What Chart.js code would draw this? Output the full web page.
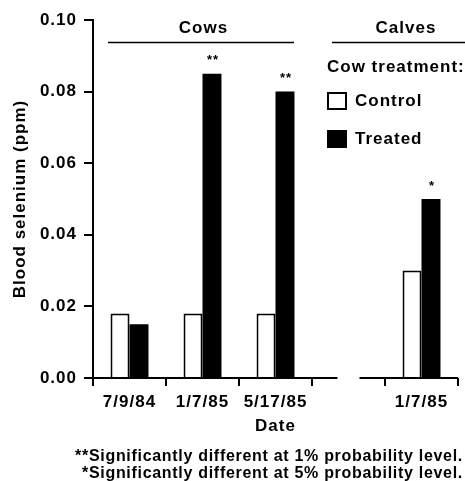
<!DOCTYPE html>
<html>
<head>
<meta charset="utf-8">
<script src="https://cdn.jsdelivr.net/npm/chart.js@4"></script>
<style>
  html, body { margin: 0; padding: 0; background: #fff; }
  canvas { display: block; }
</style>
</head>
<body>
<canvas id="seleniumChart" width="465" height="481"></canvas>
<script>
// categories: three cow sampling dates, an empty spacer, then calves
const dates = ['7/9/84', '1/7/85', '5/17/85', '', '1/7/85'];
const controlValues = [0.018, 0.018, 0.018, null, 0.030];
const treatedValues = [0.015, 0.085, 0.080, null, 0.050];
const treatedSignificance = ['', '**', '**', '', '*'];
const yTicks = [0, 0.02, 0.04, 0.06, 0.08, 0.10];
const footnotes = [
    '**Significantly different at 1% probability level.',
    '*Significantly different at 5% probability level.'
];

const FONT = '"Liberation Sans", Arial, Helvetica, sans-serif';
const bold = size => ({ family: FONT, size: size, weight: 'bold' });

// the scanned lettering is loosely spaced
const spacing = {
    id: 'spacing',
    beforeLayout(chart) { chart.ctx.letterSpacing = '1px'; },
    beforeDraw(chart) { chart.ctx.letterSpacing = '1px'; }
};

const annotations = {
    id: 'annotations',
    afterDraw(chart) {
        const ctx = chart.ctx;
        const x = chart.scales.x;
        const area = chart.chartArea;
        ctx.save();
        ctx.strokeStyle = '#000';
        ctx.fillStyle = '#000';

        // broken baseline between the cow and calf groups
        const gapCenter = x.getPixelForValue(3);
        ctx.lineWidth = 2;
        ctx.beginPath();
        ctx.moveTo(area.left, area.bottom);
        ctx.lineTo(gapCenter - 11, area.bottom);
        ctx.moveTo(gapCenter + 11, area.bottom);
        ctx.lineTo(area.right, area.bottom);
        ctx.stroke();

        // group headers
        ctx.letterSpacing = '1px';
        ctx.font = 'bold 17px ' + FONT;
        ctx.textAlign = 'center';
        ctx.textBaseline = 'middle';
        ctx.fillText('Cows', x.getPixelForValue(1) + 1, 28);
        ctx.fillText('Calves', 406, 28);
        ctx.lineWidth = 1.5;
        ctx.beginPath();
        ctx.moveTo(108, 42.5);
        ctx.lineTo(294, 42.5);
        ctx.moveTo(332, 42.5);
        ctx.lineTo(465, 42.5);
        ctx.stroke();

        // legend
        ctx.textAlign = 'left';
        ctx.fillText('Cow treatment:', 327, 67);
        const sets = chart.data.datasets;
        [101, 139].forEach((cy, i) => {
            const ds = sets[i];
            ctx.fillStyle = ds.backgroundColor;
            ctx.fillRect(328, cy - 8, 18, 16);
            ctx.strokeStyle = '#000';
            ctx.lineWidth = 2;
            ctx.strokeRect(328, cy - 8, 18, 16);
            ctx.fillStyle = '#000';
            ctx.fillText(ds.label, 355, cy);
        });

        // significance marks over treated bars
        const meta = chart.getDatasetMeta(1);
        ctx.font = 'bold 13px ' + FONT;
        ctx.textAlign = 'center';
        treatedSignificance.forEach((mark, i) => {
            if (!mark) return;
            const bar = meta.data[i];
            ctx.fillText(mark, bar.x + 1, bar.y - 13);
        });

        // footnotes
        ctx.letterSpacing = '0.7px';
        ctx.font = 'bold 16px ' + FONT;
        ctx.textAlign = 'right';
        ctx.fillText(footnotes[0], 463, 457);
        ctx.fillText(footnotes[1], 463, 474);
        ctx.restore();
    }
};

new Chart(document.getElementById('seleniumChart'), {
    type: 'bar',
    data: {
        labels: dates,
        datasets: [{
            label: 'Control',
            data: controlValues,
            backgroundColor: '#fff',
            borderColor: '#000',
            borderWidth: 2,
            borderSkipped: 'bottom'
        }, {
            label: 'Treated',
            data: treatedValues,
            backgroundColor: '#000',
            borderColor: '#000',
            borderWidth: 0
        }]
    },
    options: {
        responsive: false,
        animation: false,
        categoryPercentage: 0.52,
        barPercentage: 1.0,
        layout: { padding: { top: 20, right: 7, left: 0, bottom: 0 } },
        plugins: {
            legend: { display: false },
            tooltip: { enabled: false }
        },
        scales: {
            x: {
                grid: {
                    offset: true,
                    drawOnChartArea: false,
                    drawTicks: true,
                    tickLength: 8,
                    color: '#000',
                    lineWidth: 2
                },
                border: { display: false },
                ticks: { color: '#000', font: bold(17), padding: 6, maxRotation: 0, autoSkip: false },
                title: { display: true, text: 'Date', color: '#000', font: bold(17), padding: { top: 0, bottom: 44 } },
                afterFit(scale) { scale.height = 103; }
            },
            y: {
                min: 0,
                max: 0.10,
                afterBuildTicks(scale) { scale.ticks = yTicks.map(v => ({ value: v })); },
                grid: {
                    drawOnChartArea: false,
                    drawTicks: true,
                    tickLength: 9,
                    color: '#000',
                    lineWidth: 2
                },
                border: { display: true, color: '#000', width: 2 },
                ticks: {
                    color: '#000',
                    font: bold(17),
                    padding: 7,
                    callback: v => v.toFixed(2)
                },
                title: {
                    display: true,
                    text: 'Blood selenium (ppm)',
                    color: '#000',
                    font: bold(17),
                    padding: { top: 10, bottom: 0 }
                },
                afterFit(scale) { scale.width = 93; }
            }
        }
    },
    plugins: [spacing, annotations]
});
</script>
</body>
</html>
